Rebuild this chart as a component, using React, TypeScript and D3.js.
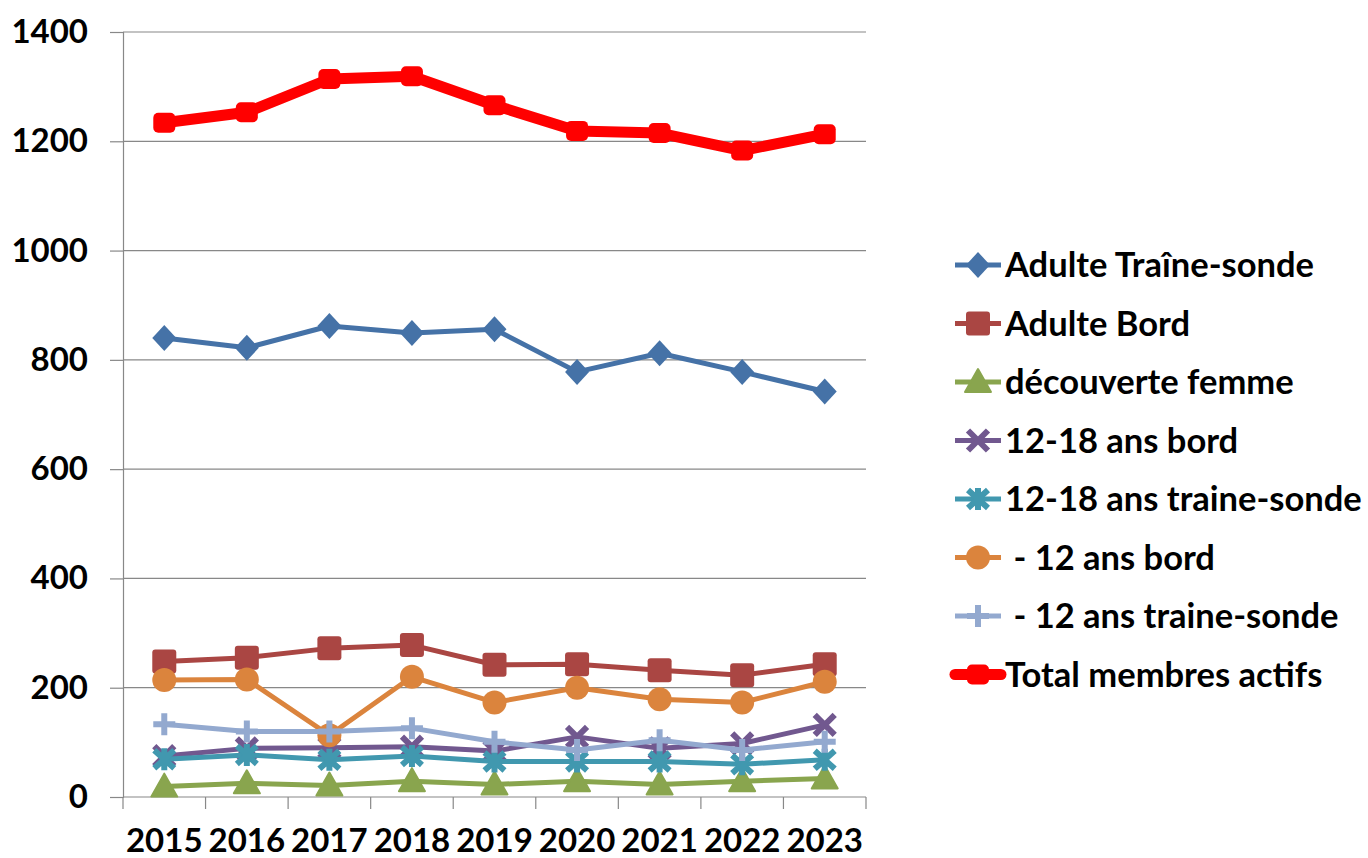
import React, { useRef, useEffect } from 'react';
import * as d3 from 'd3';

const years = ['2015', '2016', '2017', '2018', '2019', '2020', '2021', '2022', '2023'];
const yTicks = [0, 200, 400, 600, 800, 1000, 1200, 1400];

const adulteTraine = [840, 822, 862, 849, 856, 778, 812, 778, 742];
const adulteBord = [248, 255, 272, 278, 242, 243, 232, 223, 243];
const decouverteFemme = [19, 25, 21, 29, 23, 29, 23, 29, 34];
const ados1218Bord = [75, 89, 90, 92, 84, 110, 89, 98, 132];
const ados1218Traine = [69, 77, 68, 75, 65, 65, 65, 60, 68];
const moins12Bord = [214, 215, 113, 220, 173, 200, 179, 173, 211];
const moins12Traine = [133, 120, 120, 126, 101, 86, 104, 86, 101];
const totalActifs = [1234, 1253, 1314, 1319, 1266, 1219, 1215, 1183, 1213];

const series = [
  { name: 'Adulte Traîne-sonde', values: adulteTraine, color: '#4572A7', marker: 'diamond' },
  { name: 'Adulte Bord', values: adulteBord, color: '#AA4643', marker: 'square' },
  { name: 'découverte femme', values: decouverteFemme, color: '#89A54E', marker: 'triangle' },
  { name: '12-18 ans bord', values: ados1218Bord, color: '#71588F', marker: 'x' },
  { name: '12-18 ans traine-sonde', values: ados1218Traine, color: '#4198AF', marker: 'star' },
  { name: ' - 12 ans bord', values: moins12Bord, color: '#DB843D', marker: 'circle' },
  { name: ' - 12 ans traine-sonde', values: moins12Traine, color: '#93A9CF', marker: 'plus' },
  { name: 'Total membres actifs', values: totalActifs, color: '#FF0000', marker: 'total' },
];

const FONT = 'Lato, "Open Sans", sans-serif';

function drawMarker(g: any, type: string, cx: number, cy: number, color: string) {
  if (type === 'diamond') {
    g.append('path').attr('d', `M${cx},${cy - 13}L${cx + 12},${cy}L${cx},${cy + 13}L${cx - 12},${cy}Z`).attr('fill', color);
  } else if (type === 'square') {
    g.append('rect').attr('x', cx - 12).attr('y', cy - 12).attr('width', 24).attr('height', 24).attr('rx', 3).attr('fill', color);
  } else if (type === 'triangle') {
    g.append('path').attr('d', `M${cx},${cy - 13}L${cx + 13},${cy + 10}L${cx - 13},${cy + 10}Z`)
      .attr('fill', color).attr('stroke', color).attr('stroke-width', 2).attr('stroke-linejoin', 'round');
  } else if (type === 'circle') {
    g.append('circle').attr('cx', cx).attr('cy', cy).attr('r', 12).attr('fill', color);
  } else if (type === 'x') {
    g.append('path').attr('d', `M${cx - 10},${cy - 10}L${cx + 10},${cy + 10}M${cx + 10},${cy - 10}L${cx - 10},${cy + 10}`)
      .attr('stroke', color).attr('stroke-width', 6).attr('fill', 'none');
  } else if (type === 'star') {
    g.append('path').attr('d', `M${cx - 10},${cy - 9}L${cx + 10},${cy + 9}M${cx + 10},${cy - 9}L${cx - 10},${cy + 9}M${cx},${cy - 11}L${cx},${cy + 11}`)
      .attr('stroke', color).attr('stroke-width', 6).attr('fill', 'none');
  } else if (type === 'plus') {
    g.append('path').attr('d', `M${cx - 11},${cy}L${cx + 11},${cy}M${cx},${cy - 11}L${cx},${cy + 11}`)
      .attr('stroke', color).attr('stroke-width', 6).attr('fill', 'none');
  } else if (type === 'total') {
    g.append('rect').attr('x', cx - 11).attr('y', cy - 10).attr('width', 22).attr('height', 20).attr('rx', 5).attr('fill', color);
  }
}

const App: React.FC = () => {
  const ref = useRef<SVGSVGElement>(null);

  useEffect(() => {
    const svg = d3.select(ref.current);
    svg.selectAll('*').remove();

    const left = 123, right = 866, top = 32, bottom = 797;
    const x = d3.scaleBand().domain(years).range([left, right]).padding(0);
    const y = d3.scaleLinear().domain([0, 1400]).range([bottom, top]);
    const cx = (d: string) => x(d)! + x.bandwidth() / 2;

    // gridlines
    svg.append('g').selectAll('line').data(yTicks.filter(t => t > 0)).join('line')
      .attr('x1', left).attr('x2', right).attr('y1', d => y(d)).attr('y2', d => y(d))
      .attr('stroke', '#888').attr('stroke-width', 1.2);

    // y axis
    const yAxis = svg.append('g').attr('transform', `translate(${left},0)`)
      .call(d3.axisLeft(y).tickValues(yTicks).tickSize(13).tickPadding(22).tickFormat(d3.format('d')));
    yAxis.select('.domain').attr('stroke', '#888').attr('stroke-width', 1.2);
    yAxis.selectAll('.tick line').attr('stroke', '#888').attr('stroke-width', 1.2);
    yAxis.selectAll('text').attr('font-family', FONT).attr('font-weight', 'bold').attr('font-size', 33).attr('fill', '#000');

    // x axis
    svg.append('line').attr('x1', left).attr('x2', right).attr('y1', bottom).attr('y2', bottom)
      .attr('stroke', '#888').attr('stroke-width', 1.2);
    const bounds = years.map(d => x(d)!).concat([right]);
    svg.append('g').selectAll('line').data(bounds).join('line')
      .attr('x1', d => d).attr('x2', d => d).attr('y1', bottom).attr('y2', bottom + 12)
      .attr('stroke', '#888').attr('stroke-width', 1.2);
    svg.append('g').selectAll('text').data(years).join('text')
      .attr('x', d => cx(d)).attr('y', 852).attr('text-anchor', 'middle')
      .attr('font-family', FONT).attr('font-weight', 'bold').attr('font-size', 33).attr('fill', '#000')
      .text(d => d);

    // series
    series.forEach(s => {
      const g = svg.append('g');
      const lw = s.marker === 'total' ? 11 : 5;
      const line = d3.line<number>().x((_, i) => cx(years[i])).y(d => y(d));
      g.append('path').datum(s.values).attr('d', line).attr('fill', 'none')
        .attr('stroke', s.color).attr('stroke-width', lw).attr('stroke-linejoin', 'round');
      s.values.forEach((v, i) => drawMarker(g, s.marker, cx(years[i]), y(v), s.color));
    });

    // legend
    const lg = svg.append('g');
    series.forEach((s, i) => {
      const ly = 265 + i * 58.5;
      const lw = s.marker === 'total' ? 11 : 5;
      lg.append('line').attr('x1', 955).attr('x2', 1001).attr('y1', ly).attr('y2', ly)
        .attr('stroke', s.color).attr('stroke-width', lw).attr('stroke-linecap', s.marker === 'total' ? 'round' : 'butt');
      drawMarker(lg, s.marker, 978, ly, s.color);
      lg.append('text').attr('x', 1005).attr('y', ly).attr('dy', '0.36em')
        .attr('font-family', FONT).attr('font-weight', 'bold').attr('font-size', 34.5).attr('fill', '#000')
        .style('white-space', 'pre')
        .text(s.name);
    });
  }, []);

  return (
    <div style={{ position: 'absolute', left: 0, top: 0 }}>
      <svg ref={ref} width={1368} height={858} style={{ display: 'block', background: '#fff' }}></svg>
    </div>
  );
};

export default App;
